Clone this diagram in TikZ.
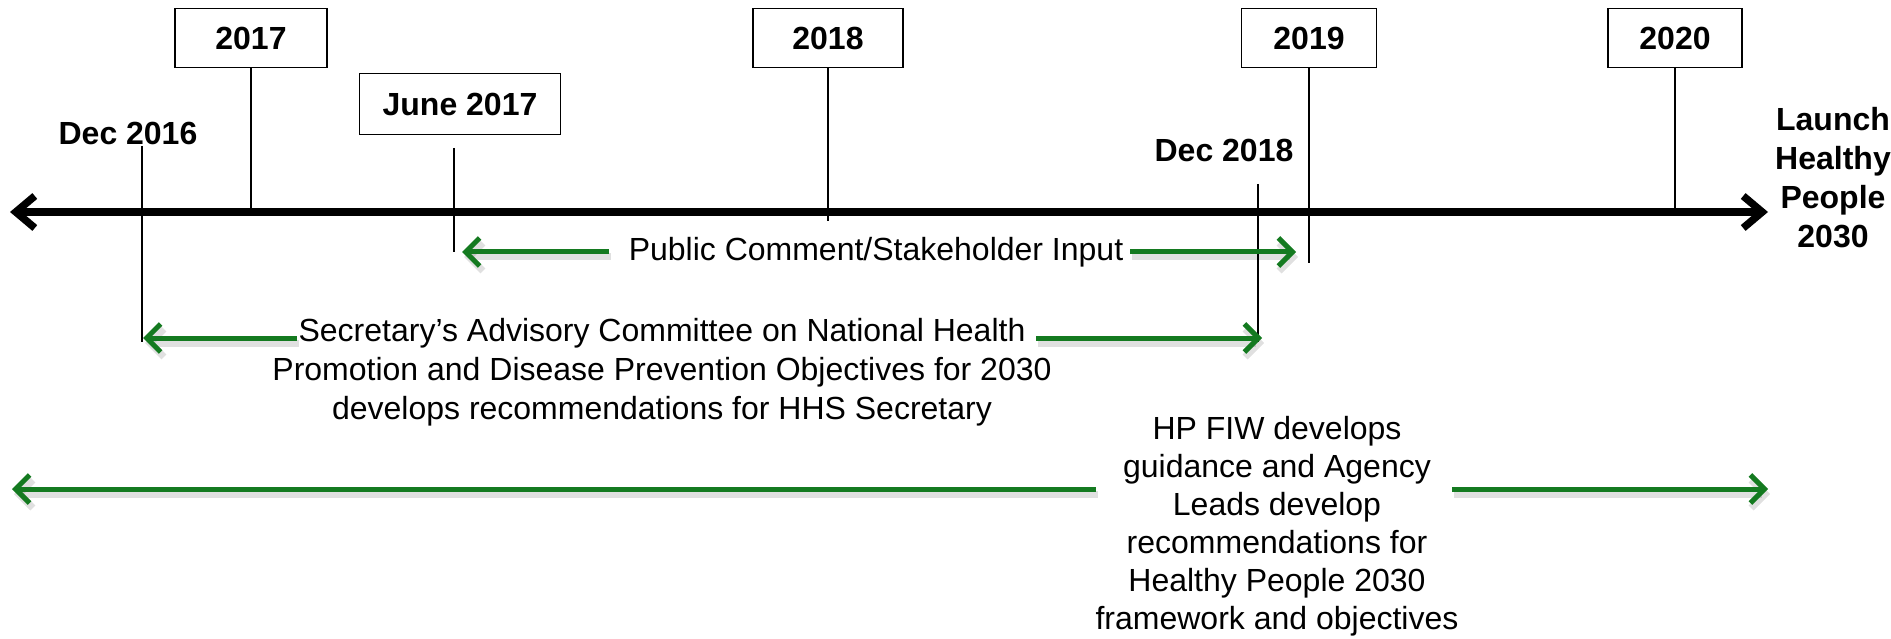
\documentclass[tikz,border=0pt]{standalone}
\usepackage{fontspec}
\setmainfont{Liberation Sans}
\usetikzlibrary{arrows.meta}
\definecolor{arrgreen}{RGB}{20,122,32}
\begin{document}
\begin{tikzpicture}[x=1pt,y=-1pt,
  yearbox/.style={draw,line width=1.6pt,minimum height=59pt,font=\fontsize{32}{39}\selectfont\bfseries,inner sep=0pt},
  lbl/.style={font=\fontsize{32}{39}\selectfont\bfseries,align=center,inner sep=0pt},
  body/.style={font=\fontsize{32}{39}\selectfont,align=center,inner sep=0pt},
  tickline/.style={line width=1.6pt},
  garrow/.style={draw=arrgreen,line width=5pt,-{Straight Barb[length=14pt,width=28pt]}},
  gshadow/.style={draw=black,opacity=0.12,line width=7pt,-{Straight Barb[length=14pt,width=28pt]},transform canvas={shift={(2pt,-5pt)}}},
  axisline/.style={line width=7.5pt,{Straight Barb[length=19pt,width=32pt]}-{Straight Barb[length=19pt,width=32pt]}}
]
\useasboundingbox (0,0) rectangle (1891,639);
% axis
\coordinate (axL) at (10,212);
\coordinate (axR) at (1768,212);
\draw[axisline] (axL) -- (axR);
% year boxes
\node[yearbox,minimum width=152pt] (y2017) at (251,38) {2017};
\node[yearbox,minimum width=150pt] (y2018) at (828,38) {2018};
\node[yearbox,minimum width=135pt] (y2019) at (1309,38) {2019};
\node[yearbox,minimum width=134pt] (y2020) at (1675,38) {2020};
\node[yearbox,minimum width=201pt,minimum height=61pt] (june) at (460,104) {June 2017};
% free labels
\node[lbl] (dec16) at (128,133) {Dec 2016};
\node[lbl] (dec18) at (1224,150) {Dec 2018};
\node[lbl] (launch) at (1833,178) {Launch\\Healthy\\People\\2030};
% tick coordinates
\coordinate (t2017) at (251,212);
\coordinate (t2018) at (828,221);
\coordinate (t2019) at (1309,263);
\coordinate (t2020) at (1675,212);
\coordinate (tjuneA) at (454,148);
\coordinate (tjuneB) at (454,252);
\coordinate (tdec16A) at (142,146);
\coordinate (tdec16B) at (142,342);
\coordinate (tdec18A) at (1258,184);
\coordinate (tdec18B) at (1258,342);
% ticks
\draw[tickline] (y2017.south) -- (t2017);
\draw[tickline] (y2018.south) -- (t2018);
\draw[tickline] (y2019.south) -- (t2019);
\draw[tickline] (y2020.south) -- (t2020);
\draw[tickline] (tjuneA) -- (tjuneB);
\draw[tickline] (tdec16A) -- (tdec16B);
\draw[tickline] (tdec18A) -- (tdec18B);
% text blocks
\node[body] (pc) at (876,252) {Public Comment/Stakeholder Input};
\node[body] (sec) at (662,372) {Secretary’s Advisory Committee on National Health\\Promotion and Disease Prevention Objectives for 2030\\develops recommendations for HHS Secretary};
\node[body,font=\fontsize{32}{38}\selectfont] (hp) at (1277,526) {HP FIW develops\\guidance and Agency\\Leads develop\\recommendations for\\Healthy People 2030\\framework and objectives};
% arrow coordinates
\coordinate (pcLs) at (609,252); \coordinate (pcLe) at (462,252);
\coordinate (pcRs) at (1130,252); \coordinate (pcRe) at (1296,252);
\coordinate (secLs) at (297,338); \coordinate (secLe) at (143,338);
\coordinate (secRs) at (1036,338); \coordinate (secRe) at (1262,338);
\coordinate (hpLs) at (1096,489); \coordinate (hpLe) at (12,489);
\coordinate (hpRs) at (1452,489); \coordinate (hpRe) at (1768,489);
% shadows
\foreach \a/\b in {pcLs/pcLe,pcRs/pcRe,secLs/secLe,secRs/secRe,hpLs/hpLe,hpRs/hpRe}
  \draw[gshadow] (\a) -- (\b);
% green arrows
\foreach \a/\b in {pcLs/pcLe,pcRs/pcRe,secLs/secLe,secRs/secRe,hpLs/hpLe,hpRs/hpRe}
  \draw[garrow] (\a) -- (\b);
\end{tikzpicture}
\end{document}
